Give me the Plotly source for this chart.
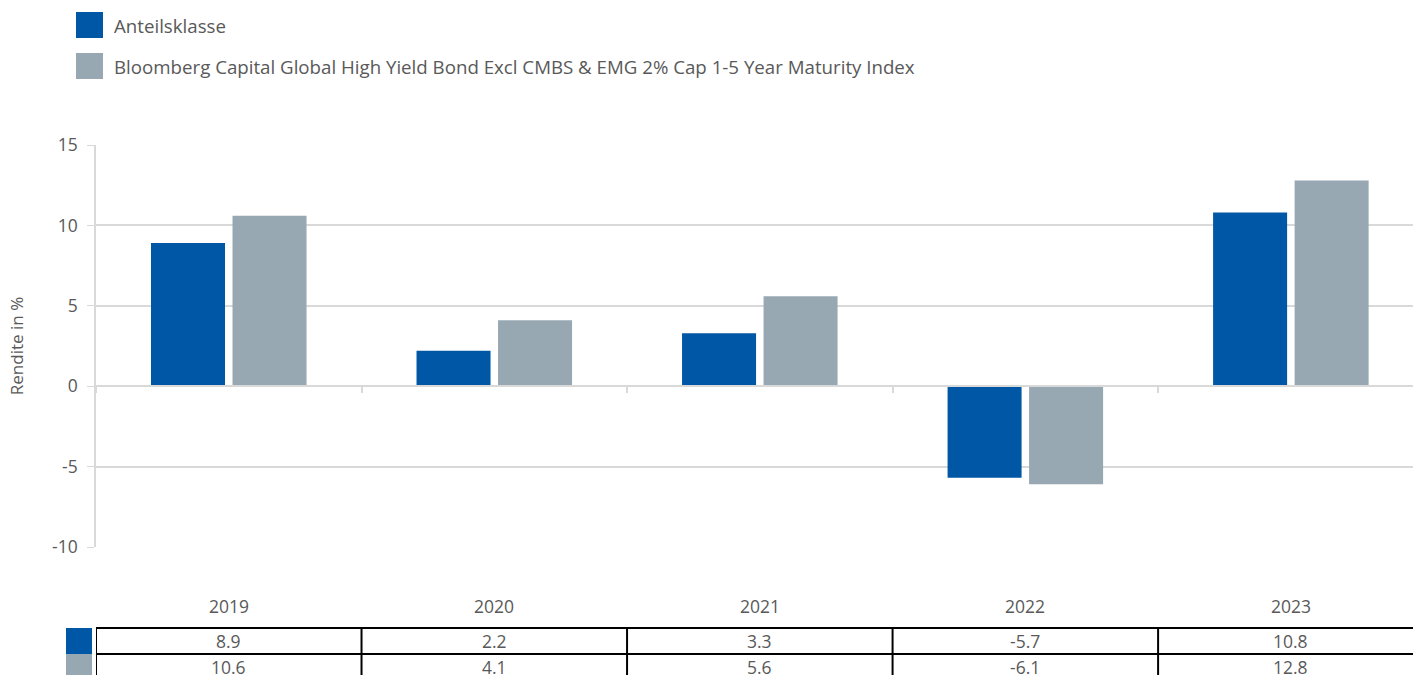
import plotly.graph_objects as go

years = ["2019", "2020", "2021", "2022", "2023"]
fund_name = "Anteilsklasse"
index_name = "Bloomberg Capital Global High Yield Bond Excl CMBS & EMG 2% Cap 1-5 Year Maturity Index"
fund_returns = [8.9, 2.2, 3.3, -5.7, 10.8]
index_returns = [10.6, 4.1, 5.6, -6.1, 12.8]
y_ticks = [-10, -5, 0, 5, 10, 15]

BLUE = "#0057a5"
GREY = "#97a8b3"
TEXT = "#595959"
GRID = "#d9d9d9"
FONT = "Open Sans"

# plot area in pixels: x 96..1413, y 145..547
W, H = 1413, 675
L, T, B = 96, 145, 128
PW, PH = W - L, H - T - B


def px(x):
    return (x - L) / PW


def py(y):
    return (H - B - y) / PH


fig = go.Figure()
fig.add_trace(go.Bar(x=years, y=fund_returns, name=fund_name, marker_color=BLUE,
                     marker_line_width=0, showlegend=False))
fig.add_trace(go.Bar(x=years, y=index_returns, name=index_name, marker_color=GREY,
                     marker_line_width=0, showlegend=False))

shapes = []
annotations = []

# legend at the top
for i, (name, col) in enumerate([(fund_name, BLUE), (index_name, GREY)]):
    top = 12 + i * 41
    shapes.append(dict(type="rect", xref="paper", yref="paper",
                       x0=px(76), x1=px(103), y0=py(top), y1=py(top + 26),
                       fillcolor=col, line_width=0))
    annotations.append(dict(xref="paper", yref="paper", x=px(112), y=py(top + 13),
                            text=name, showarrow=False, xanchor="left", yanchor="middle",
                            font=dict(family=FONT, size=18.7, color=TEXT)))

# data table below the chart
row_tops = [628, 654, 680]
for yy in row_tops:
    shapes.append(dict(type="line", xref="x", yref="paper", x0=-0.5, x1=len(years) - 0.5,
                       y0=py(yy), y1=py(yy), line=dict(color="black", width=2)))
for k in range(len(years) + 1):
    shapes.append(dict(type="line", xref="x", yref="paper", x0=k - 0.5, x1=k - 0.5,
                       y0=py(row_tops[0]), y1=py(row_tops[-1]), line=dict(color="black", width=2)))
for r, col in enumerate([BLUE, GREY]):
    shapes.append(dict(type="rect", xref="paper", yref="paper",
                       x0=px(66), x1=px(92), y0=py(row_tops[r]), y1=py(row_tops[r + 1]),
                       fillcolor=col, line_width=0))

for j, yr in enumerate(years):
    annotations.append(dict(xref="x", yref="paper", x=j, y=py(606), text=yr, showarrow=False,
                            xanchor="center", yanchor="middle",
                            font=dict(family=FONT, size=17.5, color=TEXT)))
    for r, vals in enumerate([fund_returns, index_returns]):
        annotations.append(dict(xref="x", yref="paper", x=j, y=py(row_tops[r] + 13),
                                text=f"{vals[j]:.1f}", showarrow=False,
                                xanchor="center", yanchor="middle",
                                font=dict(family=FONT, size=17.5, color=TEXT)))

fig.update_layout(
    width=W, height=H,
    margin=dict(l=L, r=0, t=T, b=B),
    paper_bgcolor="white", plot_bgcolor="white",
    barmode="group", bargap=0.386, bargroupgap=0.092,
    font=dict(family=FONT, size=17, color=TEXT),
    shapes=shapes, annotations=annotations,
    xaxis=dict(
        type="category", range=[-0.5, 4.46], anchor="free", position=(0 - y_ticks[0]) / (y_ticks[-1] - y_ticks[0]),
        showticklabels=False, showgrid=False, showline=True, linecolor=GRID, linewidth=2,
        ticks="outside", tickson="boundaries", ticklen=6, tickwidth=2, tickcolor=GRID,
    ),
    yaxis=dict(
        range=[y_ticks[0], y_ticks[-1]], tickvals=y_ticks, ticktext=[str(v) for v in y_ticks],
        showgrid=True, gridcolor=GRID, gridwidth=1.5,
        zeroline=False, showline=True, linecolor=GRID, linewidth=1.5,
        ticks="outside", ticklen=7, tickcolor=GRID, tickfont=dict(size=17.5, color=TEXT),
        ticklabelstandoff=6,
        title=dict(text="Rendite in %", font=dict(size=17, color=TEXT), standoff=24),
    ),
)

fig.write_html("out.html", post_script="document.body.style.margin='0';",
               config={"displayModeBar": False})
